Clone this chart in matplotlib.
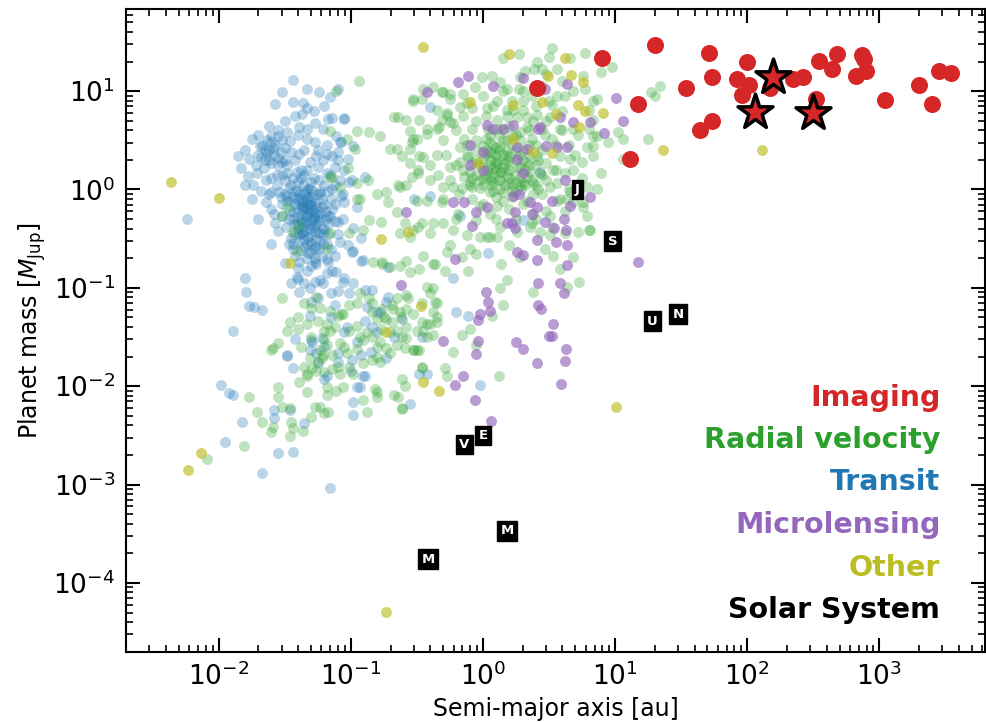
import numpy as np
import matplotlib
matplotlib.use('Agg')
from matplotlib import pyplot as plt

# values, stored as (log10 a [au], log10 M [M_Jup])
transit = [
    (-1.44, 1.11), (-1.52, 0.99), (-1.33, 1.02), (-1.24, 0.99), (-1.16, 0.94), (-1.57, 0.87),
    (-1.44, 0.89), (-1.33, 0.83), (-1.37, 0.77), (-1.05, 0.72), (-1.17, 0.72), (-1.27, 0.68),
    (-1.39, 0.64), (-1.21, 0.62), (-1.11, 0.54), (-1.75, 0.51), (-1.60, 0.54), (-1.55, 0.54),
    (-1.46, 0.49), (-1.33, 0.51), (-1.27, 0.48), (-1.08, 0.48), (-0.98, 0.44), (-1.69, 0.44),
    (-1.85, 0.34), (-1.77, 0.31), (-1.63, 0.37), (-1.60, 0.27), (-1.39, 0.36), (-1.52, 0.28),
    (-1.26, 0.34), (-1.18, 0.36), (-1.10, 0.38), (-1.02, 0.31), (-1.12, 0.23), (-1.71, 0.17),
    (-1.78, 0.14), (-1.80, 0.05), (-1.74, 0.05), (-1.64, 0.10), (-1.56, 0.15), (-1.48, 0.17),
    (-1.33, 0.20), (-1.25, 0.23), (-1.18, 0.17), (-0.99, 0.10), (-1.60, -0.03), (-1.64, -0.13),
    (-1.54, -0.03), (-1.48, -0.07), (-1.41, -0.02), (-1.31, 0.02), (-1.23, -0.02), (-1.17, -0.02),
    (-1.12, -0.15), (-1.05, -0.13), (-1.57, -0.34), (-1.52, -0.27), (-1.44, -0.23), (-1.36, -0.18),
    (-1.29, -0.17), (-1.23, -0.23), (-1.17, -0.27), (-1.06, -0.30), (-1.45, -0.49), (-1.37, -0.44),
    (-1.31, -0.53), (-1.23, -0.51), (-1.08, -0.53), (-1.02, -0.56), (-0.98, -0.63), (-1.44, -0.61),
    (-1.39, -0.74), (-1.27, -0.74), (-1.18, -0.71), (-1.12, -0.68), (-1.33, -0.83), (-1.41, -0.89),
    (-1.23, -0.92), (-1.14, -0.83), (-1.05, -0.90), (-1.80, -0.90), (-2.24, -0.30), (-1.79, -1.04),
    (-1.77, -1.18), (-1.73, -1.19), (-1.67, -1.23), (-1.89, -1.44), (-1.48, -1.69), (-1.44, -1.81),
    (-1.98, -1.99), (-1.92, -2.07), (-1.89, -2.09), (-1.82, -2.36), (-1.58, -2.32), (-1.46, -2.24),
    (-1.35, -2.37), (-1.95, -2.57), (-1.55, -2.68), (-1.44, -2.67), (-1.67, -2.88), (-1.16, -3.03),
    (-1.40, -0.91), (-1.31, -1.00), (-1.39, -1.04), (-1.30, -1.14), (-1.31, -1.29), (-1.42, -1.52),
    (-1.29, -1.55), (-1.22, -1.51), (-1.25, -1.76), (-1.20, -1.93), (-1.26, -0.76), (-1.17, -0.74),
    (-1.11, -0.84), (-1.27, -0.94), (-1.21, -0.95), (-1.10, -1.03), (-1.01, -1.05), (-0.98, -0.95),
    (-0.92, -0.73), (-0.84, -1.02), (-1.12, -1.17), (-0.88, -1.19), (-0.73, -1.14), (-0.80, -1.25),
    (-0.89, -1.34), (-0.84, -1.40), (-1.03, -1.40), (-0.61, -1.32), (-0.67, -1.50), (-0.46, -1.50),
    (-1.30, -1.53), (-1.31, -1.63), (-1.26, -1.66), (-1.48, -1.68), (-1.10, -1.66), (-0.99, -1.73),
    (-0.73, -1.71), (-1.18, -1.90), (-0.89, -1.90), (-0.48, -1.88), (-0.42, -1.88), (-0.95, -2.01),
    (-0.98, -2.16), (-0.98, -2.29), (-1.58, -2.24), (-0.55, -2.18), (-0.99, -0.64), (-0.91, -0.72),
    (-1.06, -0.94), (-0.89, -1.02), (-0.72, -0.79), (-0.72, -1.09), (-0.23, -0.90), (0.04, -0.65),
    (-0.20, -1.25), (-0.11, -1.29), (-0.78, -1.25), (-0.92, -1.68), (-0.91, -1.90), (-0.93, -2.01),
    (-0.02, -1.99), (-1.10, 1.02), (-1.14, 0.73), (-1.05, 0.73), (-1.07, 0.48), (-1.14, 0.34),
    (-0.89, 0.13), (-1.01, 0.08), (-1.14, 0.00), (-1.07, -0.07), (-0.95, -0.18), (-1.16, -0.27),
    (-1.10, -0.33), (-0.98, -0.39), (-0.92, -0.49), (-0.40, 0.84), (-0.52, -0.10), (-0.40, -0.07),
    (-0.17, -0.27), (0.30, -0.31), (0.43, 0.18), (-1.05, 0.20),
    (-1.42, -0.15), (-1.38, -0.10), (-1.35, -0.20), (-1.30, -0.12), (-1.28, -0.30), (-1.33, -0.35),
    (-1.40, -0.28), (-1.45, -0.12), (-1.25, -0.05), (-1.22, -0.18), (-1.36, 0.05), (-1.30, 0.08),
    (-1.45, 0.05), (-1.40, -0.40), (-1.27, -0.42), (-1.33, -0.55), (-1.38, -0.62), (-1.30, -0.65),
    (-1.20, -0.40), (-1.50, 0.10), (-1.55, 0.25), (-1.62, 0.40), (-1.57, 0.45), (-1.65, 0.30),
    (-1.50, 0.42), (-1.42, 0.30), (-1.35, 0.40), (-1.38, 0.12), (-1.47, -0.30), (-1.52, -0.15),
    (-1.60, -0.20), (-1.20, 0.05), (-1.15, -0.10), (-1.24, -0.60), (-1.34, -0.02), (-1.32, -0.25),
    (-1.43, -0.45), (-1.37, -0.33), (-1.29, -0.21), (-1.41, 0.18),
    (-1.20, -1.60), (-1.05, -1.45), (-1.15, -1.30), (-0.95, -1.55), (-0.80, -1.45), (-1.00, -1.85),
    (-1.10, -1.75), (-0.85, -1.65),
    (-1.50, -0.05), (-1.47, 0.02), (-1.44, -0.08), (-1.41, -0.20), (-1.39, -0.05), (-1.36, -0.12),
    (-1.34, -0.27), (-1.32, -0.08), (-1.29, -0.02), (-1.27, -0.14), (-1.25, -0.26), (-1.22, -0.10),
    (-1.19, -0.22), (-1.17, -0.35), (-1.21, -0.45), (-1.26, -0.50), (-1.31, -0.40), (-1.36, -0.45),
    (-1.39, -0.52), (-1.43, -0.35), (-1.46, -0.22), (-1.49, -0.38), (-1.53, -0.08), (-1.56, 0.05),
    (-1.52, 0.15), (-1.48, 0.25), (-1.44, 0.12), (-1.40, 0.08), (-1.35, 0.15), (-1.31, 0.28),
    (-1.28, 0.12), (-1.24, 0.10), (-1.21, 0.30), (-1.16, 0.15), (-1.14, -0.20), (-1.12, -0.32),
    (-1.18, -0.55), (-1.28, -0.60), (-1.34, -0.70), (-1.42, -0.68), (-1.30, -0.78), (-1.22, -0.68),
    (-1.47, -0.55), (-1.55, -0.42), (-1.58, -0.25), (-1.62, -0.05), (-1.60, 0.12), (-1.66, 0.22),
    (-1.70, 0.35), (-1.63, 0.50), (-1.55, 0.60), (-1.48, 0.58), (-1.40, 0.55), (-1.33, 0.62),
    (-1.45, 0.38), (-1.58, 0.35), (-1.52, 0.50), (-1.67, 0.45), (-1.72, 0.25), (-1.68, -0.02),
    (-1.38, -0.15), (-1.33, -0.20), (-1.30, -0.30), (-1.36, -0.38), (-1.40, -0.10), (-1.32, 0.00),
    (-1.26, -0.35), (-1.23, -0.05), (-1.44, -0.30), (-1.35, -0.05), (-1.29, -0.45), (-1.37, -0.25),
    (-1.31, -0.16), (-1.27, -0.24), (-1.42, -0.02), (-1.48, -0.12), (-1.38, 0.20), (-1.25, 0.40),
    (-1.18, 0.45), (-1.10, 0.30), (-1.08, 0.10), (-1.12, 0.05), (-1.06, -0.05), (-1.10, -0.45),
    (-1.15, -0.60), (-1.50, 0.70), (-1.42, 0.75), (-1.36, 0.88), (-1.28, 0.80), (-1.20, 0.85),
    (-1.62, 0.65), (-1.70, 0.55), (-1.80, 0.40), (-1.83, 0.22), (-1.75, -0.10), (-1.70, -0.30),
    (-1.60, -0.55), (-1.50, -0.75), (-1.45, -0.95), (-1.35, -0.95), (-1.25, -1.10), (-1.18, -0.85),
    (-1.15, -1.05), (-1.40, -0.80),
    (-1.38, -0.30), (-1.35, -0.42), (-1.32, -0.48), (-1.28, -0.38), (-1.25, -0.32), (-1.22, -0.40),
    (-1.19, -0.30), (-1.30, -0.55), (-1.26, -0.58), (-1.21, -0.55), (-1.35, -0.58), (-1.33, -0.10),
    (-1.29, -0.08), (-1.26, -0.18), (-1.31, -0.24), (-1.37, -0.18), (-1.41, -0.35), (-1.34, -0.33),
    (-1.28, -0.27), (-1.24, -0.44), (-1.17, -0.45), (-1.20, -0.15), (-1.39, -0.45), (-1.44, -0.55),
    (-1.32, -0.65), (-1.27, -0.70), (-1.36, -0.50), (-1.30, -0.35), (-1.23, -0.30), (-1.33, -0.15),
    (-1.62, 0.30), (-1.58, 0.42), (-1.53, 0.38), (-1.65, 0.40), (-1.60, 0.48), (-1.55, 0.32),
    (-1.50, 0.30), (-1.68, 0.33),
]

radial_velocity = [
    (0.52, 1.44), (0.50, 1.35), (0.41, 1.30), (0.27, 1.38), (0.15, 1.34), (0.39, 1.22),
    (0.32, 1.20), (0.45, 1.22), (0.56, 1.22), (0.77, 1.39), (0.60, 1.10), (0.68, 1.00),
    (0.77, 1.02), (0.83, 0.90), (0.56, 0.95), (0.52, 0.86), (0.37, 0.95), (0.27, 1.02),
    (0.18, 1.02), (0.13, 1.09), (-0.01, 1.14), (0.07, 1.15), (-0.06, 1.04), (-0.15, 0.97),
    (-0.25, 0.97), (-0.31, 0.99), (-0.38, 1.04), (-0.45, 1.02), (-0.53, 0.90), (-0.46, 0.92),
    (-0.35, 0.81), (-0.27, 0.78), (-0.25, 0.69), (-0.17, 0.84), (-0.08, 0.83), (0.03, 0.83),
    (0.11, 0.90), (0.18, 0.81), (0.30, 0.81), (0.33, 0.74), (0.41, 0.76), (0.51, 0.74),
    (0.58, 0.61), (0.68, 0.61), (0.80, 0.61), (0.83, 0.54), (0.79, 0.43), (0.83, 0.34),
    (0.75, 0.28), (0.68, 0.20), (0.75, 0.12), (0.71, 0.00), (0.76, -0.13), (0.79, -0.27),
    (0.80, -0.41), (0.72, -0.43), (0.62, -0.44), (0.52, -0.38), (0.43, -0.43), (0.37, -0.34),
    (0.26, -0.43), (0.13, -0.38), (0.05, -0.48), (-0.02, -0.48), (-0.12, -0.46), (-0.23, -0.41),
    (-0.30, -0.34), (-0.38, -0.34), (-0.46, -0.34), (-0.53, -0.41), (-0.59, -0.34), (-0.50, -0.12),
    (-0.42, -0.12), (-0.31, -0.13), (-0.19, -0.25), (-0.02, -0.17), (0.11, -0.17), (0.22, -0.08),
    (0.33, -0.12), (0.42, 0.00), (0.51, 0.03), (0.56, -0.12), (0.64, -0.10), (0.62, -0.22),
    (0.48, -0.22), (0.38, -0.25), (0.05, -0.25), (-0.05, -0.31), (-0.23, 0.03), (-0.30, 0.03),
    (-0.34, 0.15), (-0.25, 0.23), (-0.14, 0.13), (-0.16, 0.02), (-0.08, 0.03), (-0.54, 0.13),
    (-0.58, 0.05), (-0.49, 0.20), (-0.45, 0.33), (-0.55, 0.41), (-0.61, 0.34), (-0.53, 0.51),
    (-0.42, 0.61), (-0.35, 0.61), (-0.48, 0.71), (-0.58, 0.71), (-0.31, 0.71), (-0.14, 0.51),
    (-0.08, 0.61), (-0.17, 0.43), (0.02, 0.51), (0.05, 0.38), (0.13, 0.44), (0.20, 0.34),
    (0.28, 0.58), (0.37, 0.51), (0.45, 0.61), (0.52, 0.51), (0.58, 0.34), (0.66, 0.31),
    (0.62, 0.17), (0.53, 0.20), (0.43, 0.17), (0.38, 0.07), (0.30, 0.07), (0.20, 0.07),
    (0.13, 0.10), (0.05, 0.13), (-0.02, 0.10), (0.00, 0.23), (0.11, 0.27), (0.20, 0.20),
    (0.28, 0.23), (0.33, 0.13), (0.13, 0.00), (0.05, -0.03), (0.24, -0.03), (-0.08, 0.27),
    (-0.11, 0.33), (-0.17, 0.28), (0.15, 0.61), (0.11, 0.71), (0.26, 0.74), (0.23, 0.81),
    (0.33, 0.64), (0.08, 0.17), (0.00, 0.44), (0.41, 0.34), (0.48, 0.27), (0.56, 0.07),
    (0.79, 0.03), (0.86, 0.00), (-0.63, 0.03),
    (0.05, 0.30), (0.10, 0.20), (0.15, 0.35), (0.00, 0.05), (0.08, 0.45), (0.18, 0.15),
    (0.25, 0.40), (0.12, 0.55), (-0.05, 0.40), (0.22, 0.05), (0.30, 0.30), (-0.10, 0.18),
    (0.04, 0.62), (0.18, 0.50), (0.28, 0.12), (0.35, 0.45), (-0.03, 0.25), (0.10, -0.08),
    (0.20, 0.65), (0.40, 0.25), (0.02, 0.15), (0.16, 0.26), (0.27, 0.22), (0.07, 0.37),
    (-0.12, 0.45), (0.32, 0.05), (0.45, 0.40), (0.38, 0.70), (0.22, 0.90), (0.30, 1.00),
    (0.02, 0.75), (-0.20, 0.60), (0.50, 0.90), (0.60, 0.80), (0.65, 0.45), (0.48, 0.10),
    (-0.28, 0.35), (-0.40, 0.25), (0.12, 0.10), (0.06, 0.05),
    (-0.15, 0.20), (-0.10, 0.05), (-0.05, 0.15), (0.00, 0.32), (0.03, 0.20), (0.06, 0.10),
    (0.09, 0.28), (0.12, 0.40), (0.14, 0.18), (0.17, 0.05), (0.19, 0.30), (0.22, 0.45),
    (0.24, 0.15), (0.27, 0.35), (0.29, 0.00), (0.32, 0.20), (0.35, 0.35), (0.37, 0.10),
    (0.40, 0.45), (0.42, 0.30), (0.45, 0.15), (0.47, 0.55), (0.35, 0.60), (0.25, 0.55),
    (0.15, 0.50), (0.05, 0.55), (-0.05, 0.50), (-0.12, 0.35), (-0.20, 0.25), (-0.25, 0.10),
    (-0.18, -0.05), (-0.08, -0.10), (0.00, -0.15), (0.08, -0.02), (0.15, -0.12), (0.20, -0.20),
    (0.30, -0.15), (0.38, -0.05), (0.45, -0.05), (0.55, 0.20), (0.55, 0.45), (0.60, 0.60),
    (0.48, 0.70), (0.40, 0.85), (0.30, 0.90), (0.18, 0.75), (0.08, 0.85), (-0.05, 0.70),
    (-0.15, 0.75), (-0.30, 0.50), (-0.35, 0.35), (-0.40, 0.10), (-0.30, -0.10), (-0.20, -0.30),
    (0.10, -0.30), (0.25, -0.30), (0.40, -0.30), (0.65, 0.00), (0.70, 0.35), (0.72, 0.55),
    (0.62, 0.95), (0.45, 1.05), (0.15, 1.00), (0.00, 0.95), (-0.12, 0.88), (0.10, 0.35),
    (0.20, 0.25), (0.13, 0.18), (0.02, 0.40), (0.25, 0.08), (0.33, 0.28), (-0.02, 0.02),
    (0.18, 0.40), (0.08, 0.22), (0.28, 0.50), (0.11, 0.62), (-0.08, 0.12), (0.36, 0.18),
    (0.05, 0.48), (0.22, -0.02),
    (0.05, 0.25), (0.15, 0.22), (0.25, 0.30), (0.10, 0.42), (0.20, 0.12), (0.00, 0.12),
    (0.30, 0.40), (-0.05, 0.30), (0.18, 0.35), (0.08, 0.08), (0.28, 0.05), (0.12, 0.30),
    (0.35, 0.25), (0.02, 0.35), (0.22, 0.55), (-0.10, 0.08), (0.40, 0.05), (0.15, -0.03),
    (-0.94, 1.10), (-1.11, 1.00), (-0.67, 0.74), (-0.64, 0.74), (-0.53, 0.92), (-0.30, 0.99),
    (-0.25, 0.92), (-0.27, 0.76), (-0.23, 0.68), (-0.33, 0.64), (-0.42, 0.56), (-0.50, 0.51),
    (-0.55, 0.59), (-0.70, 0.41), (-0.65, 0.41), (-0.54, 0.48), (-0.48, 0.34), (-0.55, 0.27),
    (-0.49, 0.17), (-0.64, 0.05), (-0.95, 0.59), (-0.86, 0.58), (-0.78, 0.54), (-1.03, 0.51),
    (-0.97, 0.41), (-1.16, 0.13), (-0.95, 0.07), (-0.87, 0.10), (-0.80, -0.05), (-0.73, -0.03),
    (-0.72, -0.13), (-0.93, -0.10), (-0.65, -0.23), (-0.77, -0.33), (-0.86, -0.31), (-0.91, -0.41),
    (-1.01, -0.44), (-0.63, -0.44), (-0.49, -0.38), (-0.40, -0.44), (-0.55, -0.48), (0.03, -0.48),
    (0.11, -0.48), (0.36, -0.38), (0.51, -0.46), (0.68, -0.13), (0.76, -0.18), (0.81, -0.41),
    (0.66, -0.03), (0.86, 0.54), (0.95, 0.48), (1.02, 0.58), (1.06, 0.51), (1.27, 0.99),
    (1.30, 0.95), (1.25, 0.51), (0.89, 1.19), (0.98, 1.25), (0.66, 1.34), (0.28, 1.14),
    (0.48, 1.17), (0.76, 1.15), (0.86, 0.92), (0.80, 0.81), (0.83, 0.71), (0.83, 0.44),
    (1.06, 0.31), (0.89, 0.17), (0.51, -0.27), (0.58, -0.10), (1.34, 1.05),
    (-1.52, -1.10), (-1.40, -1.30), (-1.46, -1.35), (-1.48, -1.44), (-1.40, -1.42), (-1.33, -1.37),
    (-1.30, -1.20), (-1.23, -1.20), (-1.25, -1.34), (-1.18, -1.37), (-1.16, -1.44), (-1.10, -1.29),
    (-1.06, -1.27), (-1.01, -1.44), (-0.95, -1.39), (-0.93, -1.50), (-1.08, -1.56), (-1.18, -1.58),
    (-1.21, -1.68), (-1.14, -1.68), (-1.03, -1.66), (-1.31, -1.71), (-1.35, -1.80), (-1.33, -1.88),
    (-1.26, -1.85), (-1.20, -1.86), (-1.14, -1.83), (-1.08, -1.88), (-1.01, -1.80), (-0.98, -1.88),
    (-0.91, -1.76), (-0.84, -1.73), (-0.80, -1.70), (-0.78, -1.75), (-0.80, -1.60), (-0.91, -1.53),
    (-0.84, -1.50), (-0.78, -1.55), (-0.73, -1.61), (-0.70, -1.66), (-0.65, -1.58), (-0.59, -1.61),
    (-0.53, -1.63), (-0.48, -1.63), (-0.58, -1.51), (-0.58, -1.40), (-0.65, -1.44), (-0.69, -1.35),
    (-0.73, -1.32), (-0.77, -1.42), (-0.80, -1.32), (-0.84, -1.25), (-0.76, -1.22), (-0.68, -1.22),
    (-0.63, -1.25), (-0.58, -1.22), (-0.53, -1.27), (-0.46, -1.35), (-0.45, -1.44), (-0.42, -1.50),
    (-0.42, -1.37), (-0.35, -1.35), (-0.38, -1.25), (-0.35, -1.15), (-0.46, -1.15), (-0.57, -1.10),
    (-0.65, -1.10), (-0.69, -1.17), (-0.84, -1.15), (-0.95, -1.15), (-0.93, -1.05), (-0.86, -1.10),
    (-0.38, -1.00), (-0.55, -0.84), (-0.63, -0.78), (-0.70, -0.79), (-0.76, -0.74), (-0.83, -0.74),
    (-0.58, -0.73), (-0.38, -0.76), (-1.26, -1.09), (-1.35, -1.15), (-1.16, -1.24), (-1.20, -1.44),
    (-1.59, -1.61), (-1.55, -1.56), (-1.60, -1.63), (-1.77, -2.11), (-1.71, -2.26), (-1.67, -2.36),
    (-1.60, -2.47), (-1.55, -2.01), (-1.55, -2.11), (-1.52, -2.21), (-1.46, -2.22), (-1.45, -2.36),
    (-1.44, -2.42), (-1.36, -2.46), (-1.33, -2.06), (-1.27, -2.21), (-1.23, -2.21), (-1.17, -2.26),
    (-1.30, -2.31), (-1.18, -2.01), (-1.11, -2.05), (-1.06, -2.01), (-0.91, -2.14), (-0.88, -2.26),
    (-0.82, -2.03), (-0.80, -2.11), (-0.67, -2.09), (-0.64, -2.11), (-0.61, -2.22), (-0.61, -1.93),
    (-0.59, -2.00), (-0.46, -1.80), (-0.50, -1.63), (-1.81, -2.61), (-2.09, -2.74), (-1.59, -2.41),
    (-1.39, -1.96), (-1.33, -1.90), (-1.29, -1.81), (-1.18, -2.09), (-1.20, -2.27), (-1.23, -1.63),
    (-1.22, -1.71), (-1.46, -2.51),
    (-0.76, -0.76), (-0.45, -0.68), (-0.36, -0.76), (-0.29, -0.83), (-0.27, -0.64), (-0.16, -0.69),
    (-0.11, -0.83), (-0.05, -0.66), (0.14, -0.76), (0.18, -0.92), (0.13, -1.00), (0.15, -1.17),
    (0.07, -1.29), (-0.10, -1.42), (-0.16, -1.48), (-0.05, -1.58), (-0.23, -1.65), (-0.29, -1.81),
    (-0.27, -1.90), (-0.38, -1.48), (-0.35, -1.30), (-0.40, -1.37), (-0.50, -1.44), (-0.61, -1.50),
    (-0.52, -1.63), (-0.46, -1.81), (-0.80, -2.06), (-0.61, -2.23), (0.12, -1.90), (0.38, -1.04),
    (0.58, -0.81), (0.64, -0.99), (0.73, -0.94), (0.68, -0.69), (0.53, -0.68), (-1.01, -1.17),
    (-1.07, -1.27), (-0.58, -1.07), (-0.40, -1.05), (-0.42, -0.99), (-0.48, -0.81), (-0.36, -1.14),
    (-0.25, -0.56), (-0.10, -0.61), (0.20, -0.56), (0.47, -0.61), (0.28, -0.69),
    (-1.30, -1.50), (-1.20, -1.52), (-1.12, -1.40), (-1.05, -1.60), (-0.95, -1.62), (-0.88, -1.45),
    (-1.25, -1.75), (-0.70, -1.45), (-0.62, -1.30), (-0.75, -1.30), (-1.38, -1.60), (-1.10, -1.80),
    (-1.16, 0.59), (-1.02, 0.22), (-1.14, 0.13), (-1.08, 0.03), (-0.95, -0.10), (-1.48, -0.18),
    (-1.52, -0.27), (-1.39, -0.36), (-1.44, -0.43), (-1.16, -0.44), (-1.41, -0.63), (-1.18, -0.59),
]

microlensing = [
    (-0.19, 1.09), (-0.11, 1.15), (-0.42, 0.99), (0.08, 1.05), (0.30, 1.13), (0.47, 1.02),
    (0.64, 1.07), (1.01, 0.93), (1.06, 0.70), (0.92, 0.57), (0.58, 0.74), (0.68, 0.69),
    (0.81, 0.69), (0.03, 0.66), (0.08, 0.61), (0.15, 0.62), (0.23, 0.66), (0.42, 0.61),
    (0.43, 0.64), (-0.10, 0.45), (0.00, 0.38), (-0.10, 0.25), (0.00, 0.20), (0.26, 0.43),
    (0.33, 0.41), (0.48, 0.44), (0.56, 0.43), (0.64, 0.43), (0.26, 0.31), (0.30, 0.17),
    (0.62, 0.10), (0.81, -0.08), (-0.23, -0.13), (-0.14, -0.13), (0.03, -0.18), (0.23, -0.07),
    (0.27, -0.05), (0.36, -0.13), (0.41, -0.18), (0.52, -0.12), (0.66, -0.17), (-0.05, -0.23),
    (0.24, -0.23), (0.37, -0.25), (0.47, -0.33), (0.61, -0.30), (-0.58, -0.23), (-0.08, -0.37),
    (0.18, -0.34), (0.22, -0.34), (0.24, -0.39), (0.54, -0.39), (0.63, -0.41), (0.41, -0.51),
    (0.55, -0.53), (0.64, -0.56), (-0.21, -0.71), (0.26, -0.64), (0.30, -0.67), (0.41, -0.72),
    (0.64, -0.77), (1.17, -0.74), (-0.62, -0.97), (0.42, -0.95), (0.58, -0.95), (0.61, -1.05),
    (0.02, -1.04), (0.04, -1.14), (0.05, -1.24), (-0.02, -1.27), (-0.04, -1.33), (0.42, -1.17),
    (0.44, -1.22), (0.53, -1.37), (0.50, -1.49), (0.52, -1.49), (-0.30, -1.54), (-0.04, -1.54),
    (-0.05, -1.67), (0.25, -1.55), (0.30, -1.62), (0.63, -1.62), (0.62, -1.74), (0.41, -1.76),
    (-0.15, -1.90), (-0.21, -1.99), (-0.06, -2.14), (0.59, -1.98), (0.06, -2.35),
]

other = [
    (-2.36, 0.08), (-2.00, -0.09), (-1.46, -0.75), (-2.13, -2.68), (-2.23, -2.85), (-0.73, -4.30),
    (-0.47, -1.18), (-0.73, -1.45), (-0.45, -1.96), (-0.33, -2.05), (1.01, -2.21), (-0.45, 1.45),
    (0.20, 1.38), (0.62, 1.34), (0.49, 1.15), (0.67, 1.16), (0.76, 1.09), (-0.10, 0.89),
    (0.23, 0.86), (0.45, 0.89), (0.55, 0.77), (0.72, 0.86), (0.77, 0.80), (0.73, 0.64),
    (0.23, 0.51), (0.38, 0.38), (0.52, 0.37), (-0.04, 0.27), (-0.57, -0.43), (-0.77, -0.50),
    (1.36, 0.40), (2.11, 0.40), (0.91, 0.78),
]

imaging = [
    (0.41, 1.03), (0.90, 1.34), (1.30, 1.47), (1.17, 0.87), (1.11, 0.31), (1.71, 1.39),
    (2.00, 1.30), (1.73, 1.14), (1.54, 1.03), (1.92, 1.12), (2.01, 1.06), (1.96, 0.96),
    (2.17, 1.03), (2.35, 1.12), (2.42, 1.14), (2.52, 0.92), (2.54, 1.31), (2.68, 1.38),
    (2.64, 1.23), (2.87, 1.37), (2.88, 1.33), (2.82, 1.15), (2.90, 1.20), (3.04, 0.91),
    (3.30, 1.06), (3.45, 1.20), (3.54, 1.18), (3.40, 0.87), (1.73, 0.70), (1.64, 0.60),
]

# highlighted imaged planets
star_a = [115, 158, 316]
star_m = [6.2, 14.0, 6.0]

# solar system
ss_letters = ['M', 'V', 'E', 'M', 'J', 'S', 'U', 'N']
ss_a = [0.387, 0.723, 1.0, 1.524, 5.20, 9.58, 19.2, 30.1]
ss_m = [1.74e-4, 2.56e-3, 3.15e-3, 3.38e-4, 1.0, 0.299, 0.0457, 0.054]

labels = ['Imaging', 'Radial velocity', 'Transit', 'Microlensing', 'Other', 'Solar System']
label_colors = ['tab:red', 'tab:green', 'tab:blue', 'tab:purple', 'tab:olive', 'black']

fig = plt.figure(figsize=(9.86, 7.22), dpi=100)
ax = fig.add_axes([0.128, 0.0974, 0.871, 0.8898])

def draw(points, color, size, alpha, z):
    p = 10 ** np.array(points)
    ax.scatter(p[:, 0], p[:, 1], s=size, color=color, alpha=alpha, lw=0, zorder=z)

draw(transit, 'tab:blue', 62, 0.3, 2)
draw(radial_velocity, 'tab:green', 62, 0.3, 3)
draw(microlensing, 'tab:purple', 62, 0.65, 4)
draw(other, 'tab:olive', 62, 0.65, 4)
draw(imaging, 'tab:red', 150, 1.0, 5)
ax.scatter(star_a, star_m, marker='*', s=700, color='tab:red', edgecolor='black',
           linewidth=2.5, zorder=6)

for letter, a, m in zip(ss_letters, ss_a, ss_m):
    ax.text(a, m, letter, color='white', fontsize=9.5, fontweight='bold', ha='center',
            va='center', zorder=7,
            bbox=dict(boxstyle='square,pad=0.25', fc='black', ec='black'))

ax.set_xscale('log')
ax.set_yscale('log')
ax.set_xticks([1e-2, 1e-1, 1e0, 1e1, 1e2, 1e3])
ax.set_yticks([1e-4, 1e-3, 1e-2, 1e-1, 1e0, 1e1])
ax.set_xlim(2e-3, 6.3e3)
ax.set_ylim(2e-5, 68)
ax.set_xlabel('Semi-major axis [au]', fontsize=17)
ax.set_ylabel(r'Planet mass [$M_\mathrm{Jup}$]', fontsize=17)

ax.tick_params(which='both', direction='in', top=True, right=True, labelsize=19)
ax.tick_params(which='major', length=10, width=1.5, pad=8)
ax.tick_params(which='minor', length=5, width=1.2)
for s in ax.spines.values():
    s.set_linewidth(1.5)

ys = [0.3825, 0.3171, 0.2517, 0.1848, 0.1178, 0.0525]
for lab, col, y in zip(labels, label_colors, ys):
    ax.text(0.948, y, lab, color=col, fontsize=20.5, fontweight='bold', ha='right',
            va='baseline', transform=ax.transAxes)

fig.savefig('out.png', dpi=100)
